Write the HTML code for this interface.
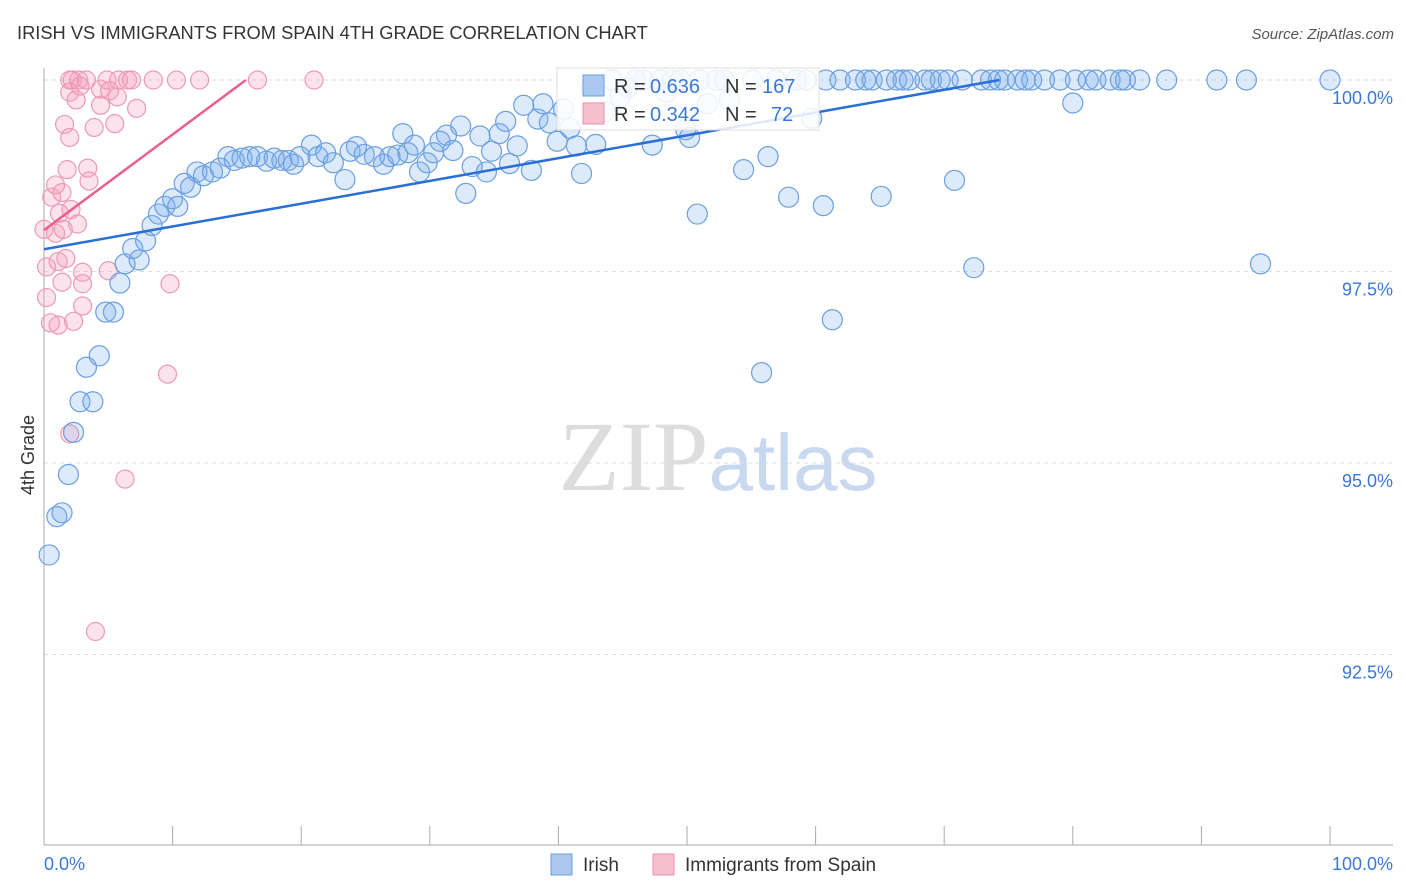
<!DOCTYPE html>
<html><head><meta charset="utf-8">
<style>
body{margin:0;background:#fff;font-family:"Liberation Sans",sans-serif;}
svg{display:block}
</style></head>
<body>
<svg id="chart" width="1406" height="892" xmlns="http://www.w3.org/2000/svg">
<text x="17" y="39" font-size="18.3" fill="#333">IRISH VS IMMIGRANTS FROM SPAIN 4TH GRADE CORRELATION CHART</text>
<text x="1394" y="39" font-size="15" fill="#555" text-anchor="end" font-style="italic">Source: ZipAtlas.com</text>
<text x="718" y="490" font-size="100" text-anchor="middle" fill="#ddd" font-family="Liberation Serif,serif">ZIP<tspan fill="#c8d8ee" font-family="Liberation Sans,sans-serif" font-size="80">atlas</tspan></text>
<text transform="translate(34,455) rotate(-90)" font-size="18" fill="#333" text-anchor="middle">4th Grade</text>
<g id="grid"></g><g id="marks"></g><g id="lines"></g>
<g>
<rect x="557" y="68" width="262" height="62" fill="#fff" fill-opacity="0.85" stroke="#ddd"/>
<rect x="583" y="75" width="21" height="21" fill="#aac8f0" stroke="#6a9fe0"/>
<rect x="583" y="103" width="21" height="21" fill="#f7bfd0" stroke="#e890aa"/>
<text x="614" y="93" font-size="20" fill="#333">R =</text>
<text x="650" y="93" font-size="20" fill="#3a78d8">0.636</text>
<text x="725" y="93" font-size="20" fill="#333">N =</text>
<text x="762" y="93" font-size="20" fill="#3a78d8">167</text>
<text x="614" y="121" font-size="20" fill="#333">R =</text>
<text x="650" y="121" font-size="20" fill="#3a78d8">0.342</text>
<text x="725" y="121" font-size="20" fill="#333">N =</text>
<text x="771" y="121" font-size="20" fill="#3a78d8">72</text>
</g>
<g>
<rect x="551" y="854" width="21" height="21" fill="#aac8f0" stroke="#6a9fe0"/>
<text x="583" y="871" font-size="19" fill="#333">Irish</text>
<rect x="653" y="854" width="21" height="21" fill="#f7bfd0" stroke="#e890aa"/>
<text x="685" y="871" font-size="19" fill="#333">Immigrants from Spain</text>
</g>
</svg>
<script>
const yTicks=[100,97.5,95,92.5];
const yTickLabels=["100.0%","97.5%","95.0%","92.5%"];
const xTickVals=[0,10,20,30,40,50,60,70,80,90,100];
const xLabels=["0.0%","100.0%"];
const irishX=[0.4,1.0,1.4,1.9,2.3,2.8,3.8,3.3,4.3,4.8,5.4,5.9,6.3,7.4,6.9,7.9,8.4,8.9,9.4,10.0,10.4,10.9,11.4,11.9,12.4,13.1,13.7,14.3,14.8,15.4,16.0,16.6,17.3,17.9,18.5,19.0,19.4,19.9,20.8,21.3,21.9,22.5,23.4,23.8,24.3,24.9,25.7,26.4,26.9,27.5,27.9,28.3,28.8,29.2,29.8,30.3,30.8,31.3,31.8,32.4,32.8,33.3,33.9,34.4,34.8,35.4,35.9,36.2,36.8,37.3,37.9,38.4,38.8,39.3,39.9,40.4,40.9,41.4,41.8,42.5,42.9,43.6,44.2,44.8,45.4,46,46.6,47.3,47.9,48.4,48.9,49.5,49.9,50.2,50.8,51.0,51.6,52.3,52.9,53.3,54.4,55.1,55.8,56.3,56.9,57.9,58.5,59.3,59.7,60.6,60.8,61.3,61.9,63.1,63.9,64.4,65.1,65.5,66.3,66.8,67.3,68.5,69.0,69.7,70.3,70.8,71.4,72.3,72.9,73.6,74.2,74.7,75.7,76.3,76.8,77.8,79,80,80.2,81.2,81.8,82.9,83.7,84.1,85.2,87.3,91.2,93.5,94.6,100];
const irishY=[93.8,94.3,94.35,94.85,95.4,95.8,95.8,96.25,96.4,96.97,96.97,97.35,97.6,97.65,97.8,97.9,98.1,98.25,98.35,98.45,98.35,98.65,98.6,98.8,98.75,98.8,98.85,99.0,98.95,98.98,99.0,99.0,98.94,98.98,98.95,98.95,98.9,99.0,99.15,99.0,99.05,98.92,98.7,99.07,99.13,99.03,99.0,98.9,99.0,99.02,99.3,99.05,99.15,98.8,98.92,99.05,99.2,99.28,99.08,99.4,98.52,98.87,99.27,98.8,99.07,99.3,99.46,98.91,99.14,99.67,98.82,99.49,99.69,99.44,99.2,99.62,99.37,99.14,98.78,99.92,99.16,99.59,100,99.78,99.9,100,100,99.15,100,99.84,100,100,99.35,99.25,98.25,100,99.69,100,100,99.74,98.83,100,96.18,99.0,100,98.47,100,100,99.5,98.36,100,96.87,100,100,100,100,98.48,100,100,100,100,100,100,100,100,98.69,100,97.55,100,100,100,100,100,100,100,100,100,99.7,100,100,100,100,100,100,100,100,100,100,97.6,100];
const spainX=[0,0.2,0.2,0.5,0.6,0.9,0.9,1.1,1.1,1.2,1.4,1.4,1.6,1.7,1.8,2.0,2.0,2.0,2.1,2.2,2.3,2.5,2.6,2.7,2.8,3.0,3.0,3.0,3.3,3.4,3.5,3.9,4.0,4.4,4.4,4.9,5.0,5.1,5.5,5.7,5.8,6.3,6.5,6.8,7.2,8.5,9.6,9.8,10.3,12.1,16.6,21.0,2.0,1.5];
const spainY=[98.05,97.56,97.16,96.83,98.47,98.63,98.0,96.8,97.63,98.26,98.53,97.36,99.42,97.67,98.83,99.25,100,99.84,98.31,100,96.85,99.74,98.12,100,99.92,97.34,97.49,97.05,100,98.85,98.68,99.38,92.8,99.88,99.67,100,97.51,99.86,99.43,99.78,100,94.79,100,100,99.63,100,96.16,97.34,100,100,100,100,95.38,98.05];
const irishTrend=[[0,97.79],[74.3,100]];
const spainTrend=[[0,98.04],[15.7,100]];
const NS="http://www.w3.org/2000/svg";
const X=v=>44+v*12.86;
const Y=v=>80+(100-v)/2.5*191.5;
function mk(tag,at,parent){const e=document.createElementNS(NS,tag);for(const k in at)e.setAttribute(k,at[k]);parent.appendChild(e);return e;}
const grid=document.getElementById('grid'),marks=document.getElementById('marks'),lines=document.getElementById('lines');
yTicks.forEach((t,i)=>{
 const l=mk('line',{x1:44,x2:1393,y1:Y(t),y2:Y(t),stroke:'#ddd','stroke-dasharray':'4,4'},grid);
 
 
 const tx=mk('text',{x:1393,y:Y(t)+24,'font-size':18,fill:'#3a78d8','text-anchor':'end'},grid);
 tx.textContent=yTickLabels[i];
 
 
});
const ax=mk('line',{x1:44,x2:44,y1:68,y2:845,stroke:'#aaa'},grid);


const bx=mk('line',{x1:44,x2:1393,y1:845,y2:845,stroke:'#aaa'},grid);


xTickVals.forEach(v=>{
 const t=mk('line',{x1:X(v),x2:X(v),y1:826,y2:845,stroke:'#aaa'},grid);
 
 
});
[[0,'start',44],[1,'end',1393]].forEach(([i,a,x])=>{
 const t=mk('text',{x:x,y:870,'font-size':18,fill:'#3a78d8','text-anchor':a},grid);
 t.textContent=xLabels[i];
 
 
});
spainX.forEach((v,i)=>{
 const c=mk('circle',{cx:X(v),cy:Y(spainY[i]),r:9,fill:'rgba(244,160,188,0.3)',stroke:'#eb9ab4','stroke-width':1.2},marks);
 
 
});
irishX.forEach((v,i)=>{
 const c=mk('circle',{cx:X(v),cy:Y(irishY[i]),r:10,fill:'rgba(120,170,235,0.25)',stroke:'#6a9fe0','stroke-width':1.2},marks);
 
 
});
const l1=mk('line',{x1:X(irishTrend[0][0]),y1:Y(irishTrend[0][1]),x2:X(irishTrend[1][0]),y2:Y(irishTrend[1][1]),stroke:'#2a6fd6','stroke-width':2.5},lines);


const l2=mk('line',{x1:X(spainTrend[0][0]),y1:Y(spainTrend[0][1]),x2:X(spainTrend[1][0]),y2:Y(spainTrend[1][1]),stroke:'#e8608a','stroke-width':2.5},lines);


</script>
</body></html>
